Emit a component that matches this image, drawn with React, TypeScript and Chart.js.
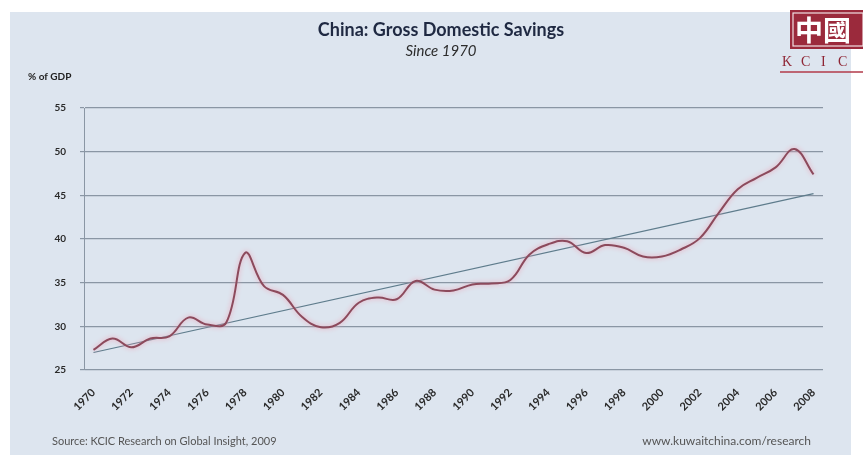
import { useEffect, useRef } from "react";
import { Chart, registerables } from "chart.js";

Chart.register(...registerables);

// Calendar years on the category axis
const years = [
  "1970", "1971", "1972", "1973", "1974", "1975", "1976", "1977", "1978", "1979",
  "1980", "1981", "1982", "1983", "1984", "1985", "1986", "1987", "1988", "1989",
  "1990", "1991", "1992", "1993", "1994", "1995", "1996", "1997", "1998", "1999",
  "2000", "2001", "2002", "2003", "2004", "2005", "2006", "2007", "2008",
];

// Gross domestic savings, % of GDP
const savingsPct = [
  27.3, 28.6, 27.6, 28.6, 28.85, 31.0, 30.2, 30.4, 38.4, 34.6,
  33.6, 31.1, 29.9, 30.4, 32.7, 33.3, 33.1, 35.2, 34.2, 34.1,
  34.8, 34.9, 35.3, 38.2, 39.4, 39.75, 38.4, 39.3, 39.0, 38.0,
  38.0, 38.8, 40.1, 43.0, 45.7, 47.0, 48.2, 50.3, 47.4,
];

// Linear trend end points (first and last year)
const trendStart = 27.0;
const trendEnd = 45.2;

const yMin = 25;
const yMax = 55;
const yStep = 5;

const titleText = "China: Gross Domestic Savings";
const subtitleText = "Since 1970";
const unitText = "% of GDP";
const sourceText = "Source: KCIC Research on Global Insight, 2009";
const urlText = "www.kuwaitchina.com/research";

const PANEL = "#dde5ef";

const framePlugin = {
  id: "frame",
  beforeDraw(chart: Chart) {
    const ctx = chart.ctx;
    const w = chart.width;
    const h = chart.height;
    ctx.save();
    ctx.fillStyle = "#ffffff";
    ctx.fillRect(0, 0, w, h);
    ctx.fillStyle = PANEL;
    ctx.fillRect(10, 12, 841, h - 12);
    ctx.restore();
  },
  afterDraw(chart: Chart) {
    const ctx = chart.ctx;
    ctx.save();
    // Headings
    ctx.textAlign = "center";
    ctx.textBaseline = "middle";
    ctx.fillStyle = "#1f2942";
    ctx.font = "bold 18px Lato";
    ctx.fillText(titleText, 441, 30);
    ctx.fillStyle = "#2c2c2c";
    ctx.font = "italic 15px Lato";
    ctx.fillText(subtitleText, 441, 51);

    // Axis unit
    ctx.textAlign = "left";
    ctx.fillStyle = "#222";
    ctx.font = "bold 10px Lato";
    ctx.fillText(unitText, 28, 77);

    // Footer
    ctx.fillStyle = "#555";
    ctx.font = "11px Lato";
    ctx.fillText(sourceText, 52, 441);
    ctx.textAlign = "right";
    ctx.font = "12px Lato";
    ctx.fillText(urlText, 811, 441);

    // Logo block
    ctx.fillStyle = "#9b2a3c";
    ctx.fillRect(790, 10, 73, 39);
    ctx.strokeStyle = "rgba(255,255,255,0.85)";
    ctx.lineWidth = 1.2;
    ctx.strokeRect(793, 13, 70, 33);
    ctx.fillStyle = "#ffffff";
    ctx.textAlign = "left";
    ctx.font = "bold 28px 'Noto Sans CJK TC'";
    ctx.fillText("中國", 795, 30);
    ctx.fillStyle = "#8e2534";
    ctx.font = "14px 'Liberation Serif'";
    const letters = ["K", "C", "I", "C"];
    const lx = [782, 801, 821, 838];
    letters.forEach((l, i) => ctx.fillText(l, lx[i], 62));
    ctx.strokeStyle = "#b23a4a";
    ctx.lineWidth = 1.5;
    ctx.beginPath();
    ctx.moveTo(780, 72);
    ctx.lineTo(863, 72);
    ctx.stroke();
    ctx.restore();
  },
};

// Soft pink halo under the savings line
const haloPlugin = {
  id: "halo",
  beforeDatasetDraw(chart: Chart, args: any) {
    if (args.index !== 0) return;
    const ctx = chart.ctx;
    ctx.save();
    ctx.shadowColor = "rgba(236,160,180,1)";
    ctx.shadowBlur = 5;
  },
  afterDatasetDraw(chart: Chart, args: any) {
    if (args.index !== 0) return;
    chart.ctx.restore();
  },
};

export default function App() {
  const canvasRef = useRef<HTMLCanvasElement | null>(null);

  useEffect(() => {
    const canvas = canvasRef.current;
    if (!canvas) return;
    const trendData = years.map((_, i) =>
      i === 0 ? trendStart : i === years.length - 1 ? trendEnd : null
    );
    const chart = new Chart(canvas, {
      type: "line",
      data: {
        labels: years,
        datasets: [
          {
            label: "Gross domestic savings",
            data: savingsPct,
            borderColor: "#8c4a5c",
            borderWidth: 2,
            tension: 0.4,
            pointRadius: 0,
            fill: false,
          },
          {
            label: "Trend",
            data: trendData,
            borderColor: "#5e7c8c",
            borderWidth: 1.2,
            spanGaps: true,
            pointRadius: 0,
            tension: 0,
            fill: false,
          },
        ],
      },
      options: {
        responsive: false,
        animation: false,
        devicePixelRatio: 1,
        layout: { padding: { left: 10, right: 40, top: 108, bottom: 0 } },
        plugins: {
          legend: { display: false },
          tooltip: { enabled: false },
          title: { display: false },
        },
        scales: {
          x: {
            offset: true,
            grid: { display: false, drawTicks: false },
            border: { display: false },
            ticks: {
              autoSkip: false,
              maxRotation: 45,
              minRotation: 45,
              padding: 16,
              color: "#2a2a2a",
              font: { family: "Lato", size: 11, weight: "bold" },
              callback: (_v: any, i: number) => (i % 2 === 0 ? years[i] : ""),
            },
            afterFit: (scale: any) => {
              scale.height = 85;
            },
          },
          y: {
            min: yMin,
            max: yMax,
            ticks: {
              stepSize: yStep,
              padding: 14,
              color: "#2a2a2a",
              font: { family: "Lato", size: 10, weight: "bold" },
            },
            grid: { color: "#8a96a4", lineWidth: 1.2, tickLength: 4 },
            border: { display: true, color: "#8a96a4", width: 1 },
            afterFit: (scale: any) => {
              scale.width = 74;
            },
          },
        },
      },
      plugins: [framePlugin, haloPlugin],
    });
    return () => chart.destroy();
  }, []);

  return (
    <div style={{ position: "absolute", left: 0, top: 0, width: 863, height: 455 }}>
      <canvas ref={canvasRef} width={863} height={455} style={{ width: 863, height: 455, display: "block" }} />
    </div>
  );
}
